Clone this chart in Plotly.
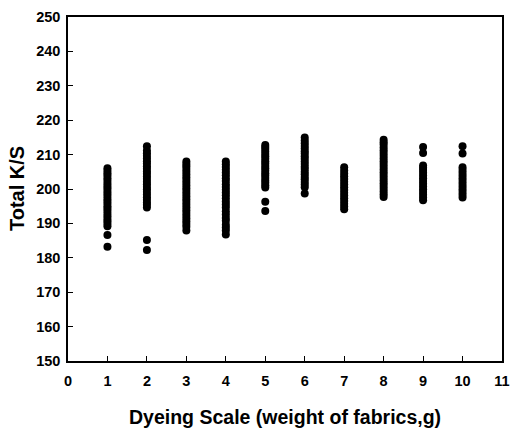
import plotly.graph_objects as go

# Dyeing scale (weight of fabrics, g) -> Total K/S readings
ks_1 = [183.2, 186.6, 189.2, 189.9, 190.6, 191.3, 192.1, 192.8, 193.6, 194.3, 195.0, 195.8,
        196.5, 197.2, 198.0, 198.7, 199.4, 200.2, 200.9, 201.6, 202.4, 203.1, 203.9, 204.6, 205.3, 206.0]
ks_2 = [182.3, 185.2, 194.6, 195.4, 196.1, 196.9, 197.6, 198.4, 199.1, 199.9, 200.6, 201.4,
        202.1, 202.9, 203.6, 204.4, 205.1, 205.9, 206.6, 207.4, 208.1, 208.9, 209.6, 210.4, 211.2, 212.4]
ks_3 = [187.9, 189.0, 189.8, 190.6, 191.4, 192.2, 193.0, 193.8, 194.6, 195.4, 196.2, 197.0,
        197.8, 198.6, 199.4, 200.2, 201.0, 201.8, 202.6, 203.4, 204.2, 205.0, 205.8, 206.6, 207.3, 208.0]
ks_4 = [186.8, 187.9, 188.8, 189.6, 190.8, 191.6, 192.6, 193.5, 194.6, 195.5, 196.4, 197.3,
        198.2, 199.0, 199.8, 200.6, 201.4, 202.3, 203.1, 204.0, 204.8, 205.6, 206.4, 207.2, 208.0]
ks_5 = [193.6, 196.3, 200.4, 201.1, 201.8, 202.5, 203.2, 203.9, 204.6, 205.3, 206.0, 206.7,
        207.4, 208.1, 208.8, 209.5, 210.2, 210.9, 211.6, 212.2, 212.8]
ks_6 = [198.7, 200.5, 201.3, 202.0, 202.8, 203.5, 204.3, 205.0, 205.8, 206.5, 207.3, 208.0,
        208.8, 209.5, 210.3, 211.0, 211.8, 212.5, 213.3, 214.1, 215.0]
ks_7 = [194.1, 194.9, 195.7, 196.5, 197.3, 198.1, 198.9, 199.7, 200.5, 201.3, 202.1, 202.9,
        203.7, 204.5, 205.4, 206.3]
ks_8 = [197.7, 198.5, 199.3, 200.1, 200.9, 201.7, 202.5, 203.3, 204.1, 204.9, 205.7, 206.5,
        207.3, 208.1, 208.9, 209.7, 210.5, 211.3, 212.1, 212.9, 213.6, 214.3]
ks_9 = [196.7, 197.5, 198.3, 199.1, 199.9, 200.7, 201.5, 202.3, 203.1, 203.9, 204.7, 205.5,
        206.2, 206.8, 210.5, 212.2]
ks_10 = [197.5, 198.3, 199.1, 199.9, 200.7, 201.5, 202.3, 203.1, 203.9, 204.7, 205.5, 206.3,
         210.3, 212.4]

scales = [1, 2, 3, 4, 5, 6, 7, 8, 9, 10]
ks_values = [ks_1, ks_2, ks_3, ks_4, ks_5, ks_6, ks_7, ks_8, ks_9, ks_10]

x_ticks = list(range(0, 12))
y_ticks = list(range(150, 251, 10))

x_title = "Dyeing Scale (weight of fabrics,g)"
y_title = "Total K/S"

xs, ys = [], []
for s, vals in zip(scales, ks_values):
    xs.extend([s] * len(vals))
    ys.extend(vals)

fig = go.Figure()
fig.add_trace(go.Scatter(
    x=xs, y=ys, mode="markers",
    marker=dict(color="black", size=8, line=dict(width=0)),
    showlegend=False,
))

font_family = "Liberation Sans, Arial, sans-serif"
axis_common = dict(
    showline=True, linecolor="black", linewidth=1.5, mirror=True,
    ticks="inside", ticklen=5, tickwidth=1.2, tickcolor="black",
    showgrid=False, zeroline=False, automargin=False,
    tickfont=dict(family=font_family, size=14.5, color="black", weight="bold"),
)

fig.update_layout(
    width=511, height=428,
    margin=dict(l=68, r=9, t=17, b=67, autoexpand=False),
    paper_bgcolor="white", plot_bgcolor="white",
    font=dict(family=font_family, color="black"),
    xaxis=dict(
        range=[0, 11], tickvals=x_ticks, ticktext=[str(v) for v in x_ticks],
        ticklabelstandoff=6,
        **axis_common,
    ),
    yaxis=dict(
        range=[150, 250], tickvals=y_ticks, ticktext=[str(v) for v in y_ticks],
        ticklabelstandoff=3,
        **axis_common,
    ),
)

fig.add_annotation(
    text="<b>" + x_title + "</b>", xref="paper", yref="paper", x=0.5, y=0,
    xanchor="center", yanchor="middle", yshift=-56, showarrow=False,
    font=dict(family=font_family, size=19.5, color="black"),
)
fig.add_annotation(
    text="<b>" + y_title + "</b>", xref="paper", yref="paper", x=0, y=0.5,
    xanchor="center", yanchor="middle", xshift=-51, textangle=-90, showarrow=False,
    font=dict(family=font_family, size=20, color="black"),
)

fig.write_html(
    "out.html",
    config={"displayModeBar": False},
    post_script="document.body.style.margin='0';document.body.style.overflow='hidden';",
)
